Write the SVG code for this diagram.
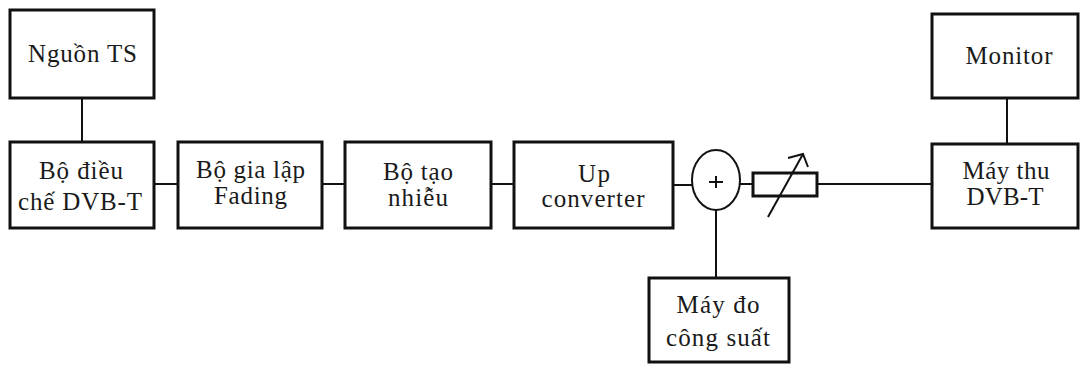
<svg xmlns="http://www.w3.org/2000/svg" width="1080" height="365" viewBox="0 0 1080 365">
  <style>
    .box { fill: #ffffff; stroke: #111111; stroke-width: 3; }
    .wire { stroke: #111111; stroke-width: 2; fill: none; }
    .lbl { font-family: "Liberation Serif", "Times New Roman", serif; font-size: 25px; fill: #1a1a1a; text-anchor: middle; }
  </style>
  <rect width="1080" height="365" fill="#ffffff"/>

  <!-- connectors -->
  <g id="connectors">
    <line class="wire" x1="82" y1="98" x2="82" y2="142"/>
    <line class="wire" x1="154" y1="184" x2="178" y2="184"/>
    <line class="wire" x1="322" y1="184" x2="345" y2="184"/>
    <line class="wire" x1="491" y1="184" x2="514" y2="184"/>
    <line class="wire" x1="673" y1="185" x2="692" y2="185"/>
    <line class="wire" x1="740" y1="184" x2="753" y2="184"/>
    <line class="wire" x1="817" y1="184" x2="932" y2="184"/>
    <line class="wire" x1="1007" y1="98" x2="1007" y2="144"/>
    <line class="wire" x1="716" y1="210" x2="716" y2="278"/>
  </g>

  <g id="nguon-ts">
    <rect class="box" x="10" y="10" width="144" height="88"/>
    <text class="lbl" x="82.5" y="62" textLength="109" lengthAdjust="spacing">Nguồn TS</text>
  </g>

  <g id="bo-dieu-che">
    <rect class="box" x="10" y="142" width="144" height="86"/>
    <text class="lbl" x="81" y="179" textLength="84" lengthAdjust="spacing">Bộ điều</text>
    <text class="lbl" x="80" y="210" textLength="124" lengthAdjust="spacing">chế DVB-T</text>
  </g>

  <g id="bo-gia-lap-fading">
    <rect class="box" x="178" y="142" width="144" height="86"/>
    <text class="lbl" x="250.5" y="178" textLength="109" lengthAdjust="spacing">Bộ gia lập</text>
    <text class="lbl" x="250.5" y="204" textLength="73" lengthAdjust="spacing">Fading</text>
  </g>

  <g id="bo-tao-nhieu">
    <rect class="box" x="345" y="142" width="146" height="86"/>
    <text class="lbl" x="418" y="180" textLength="70" lengthAdjust="spacing">Bộ tạo</text>
    <text class="lbl" x="418" y="206" textLength="60" lengthAdjust="spacing">nhiễu</text>
  </g>

  <g id="up-converter">
    <rect class="box" x="514" y="142" width="159" height="86"/>
    <text class="lbl" x="594" y="182" textLength="32" lengthAdjust="spacing">Up</text>
    <text class="lbl" x="593" y="207" textLength="103" lengthAdjust="spacing">converter</text>
  </g>

  <!-- summing junction -->
  <g id="bo-cong">
    <ellipse cx="716" cy="180" rx="24" ry="30" fill="#ffffff" stroke="#111111" stroke-width="2"/>
    <line class="wire" x1="709" y1="182" x2="723" y2="182"/>
    <line class="wire" x1="716" y1="176" x2="716" y2="188"/>
  </g>

  <!-- variable attenuator -->
  <g id="suy-hao">
    <rect x="753" y="173" width="64" height="23" fill="#ffffff" stroke="#111111" stroke-width="3"/>
    <line class="wire" x1="768" y1="217" x2="803" y2="154"/>
    <polyline class="wire" points="788,158 803,154 808,167"/>
  </g>

  <g id="may-do-cong-suat">
    <rect class="box" x="649" y="278" width="140" height="84"/>
    <text class="lbl" x="718" y="313" textLength="83" lengthAdjust="spacing">Máy đo</text>
    <text class="lbl" x="718" y="346" textLength="104" lengthAdjust="spacing">công suất</text>
  </g>

  <g id="may-thu">
    <rect class="box" x="932" y="144" width="146" height="84"/>
    <text class="lbl" x="1006" y="179" textLength="87" lengthAdjust="spacing">Máy thu</text>
    <text class="lbl" x="1005" y="205" textLength="77" lengthAdjust="spacing">DVB-T</text>
  </g>

  <g id="monitor">
    <rect class="box" x="932" y="14" width="146" height="84"/>
    <text class="lbl" x="1009" y="64" textLength="87" lengthAdjust="spacing">Monitor</text>
  </g>
</svg>
